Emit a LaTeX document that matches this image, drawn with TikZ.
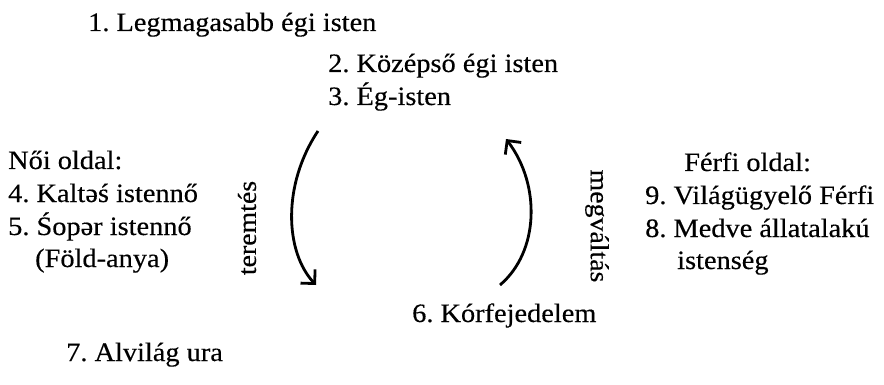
\documentclass[tikz,border=0pt]{standalone}
\usepackage{fontspec}
\setmainfont{Liberation Serif}[FakeStretch=1.07,FakeBold=0.35]
\usetikzlibrary{arrows.meta}
\begin{document}
\frenchspacing
\begin{tikzpicture}[x=1pt,y=-1pt,
  lbl/.style={anchor=base west,inner sep=0pt,font=\fontsize{26.5}{30}\selectfont},
  vlbl/.style={anchor=center,inner sep=0pt,font=\fontsize{26}{30}\selectfont},
  arc/.style={line width=2.8pt,-{Straight Barb[length=10pt,width=20pt,line width=2.8pt]}}]
\useasboundingbox (0,0) rectangle (884,385);
\node[lbl] (n1) at (88,31) {1. Legmagasabb égi isten};
\node[lbl] (n2) at (328,72) {2. Középső égi isten};
\node[lbl] (n3) at (328,105) {3. Ég-isten};
\node[lbl] (noi) at (8,169) {Női oldal:};
\node[lbl] (n4) at (8,202) {4. Kaltəś istennő};
\node[lbl] (n5) at (8,235) {5. Śopər istennő};
\node[lbl] (n5b) at (35,267) {(Föld-anya)};
\node[lbl] (ferfi) at (684,171) {Férfi oldal:};
\node[lbl] (n9) at (645,204) {9. Világügyelő Férfi};
\node[lbl] (n8) at (645,237) {8. Medve állatalakú};
\node[lbl] (n8b) at (677,269) {istenség};
\node[lbl] (n6) at (412,322) {6. Kórfejedelem};
\node[lbl] (n7) at (66,361) {7. Alvilág ura};
\node[vlbl,rotate=90] (ter) at (247,228) {teremtés};
\node[vlbl,rotate=-90] (meg) at (597,226) {megváltás};
\coordinate (la) at (318,131);
\coordinate (lb) at (316,285);
\coordinate (ra) at (500,285);
\coordinate (rb) at (506,139);
\draw[arc] (la) .. controls (282,185) and (285,252) .. (lb);
\draw[arc] (ra) .. controls (539,252) and (541,185) .. (rb);
\end{tikzpicture}
\end{document}
